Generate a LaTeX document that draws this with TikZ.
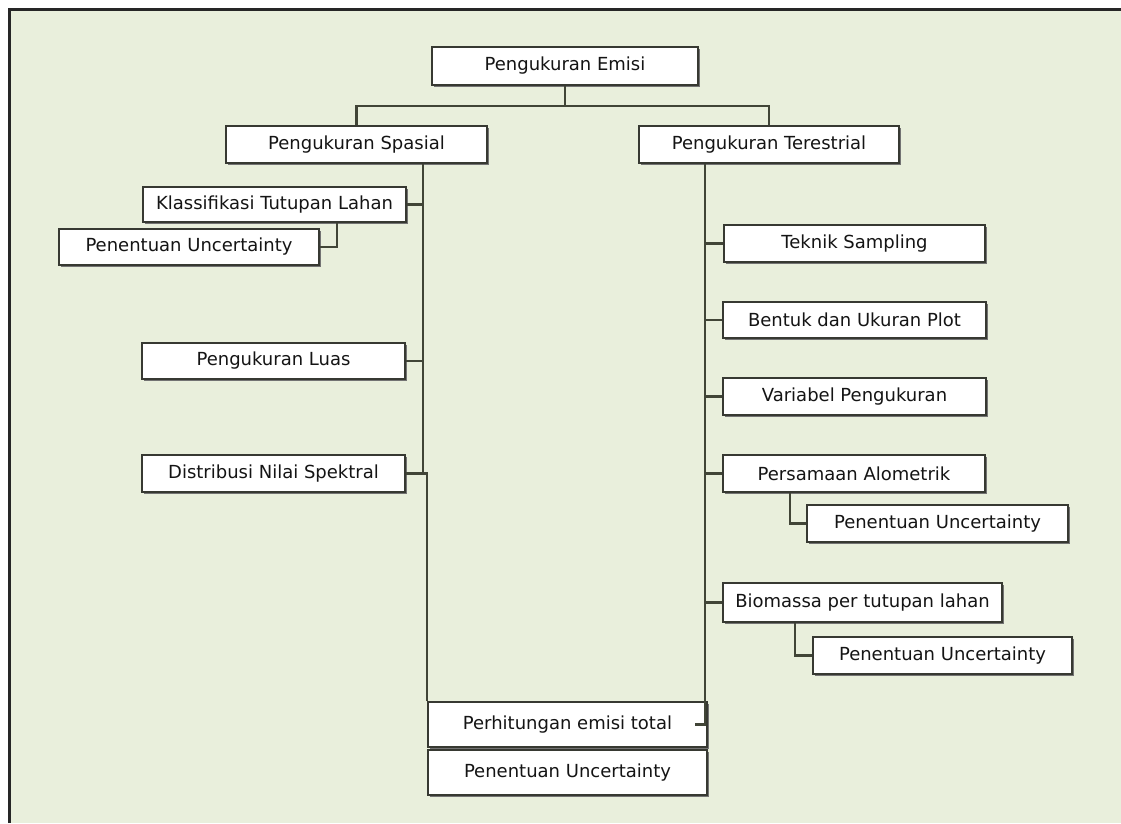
\documentclass[tikz,border=0pt]{standalone}
\usepackage{fontspec}
\setmainfont{DejaVu Sans}
\definecolor{bgc}{RGB}{233,239,220}
\definecolor{edgec}{RGB}{55,57,50}
\definecolor{linec}{RGB}{65,69,55}
\definecolor{txtc}{RGB}{20,20,20}
\tikzset{
  box/.style={rectangle, draw=edgec, line width=1.6pt, fill=white, inner sep=0pt,
    text=txtc, font=\fontsize{18}{21}\selectfont,
    preaction={fill=black!55, transform canvas={xshift=1.6pt,yshift=-1.6pt}}},
  conn/.style={draw=linec, line width=2.1pt}
}
\begin{document}
\begin{tikzpicture}[x=1pt,y=-1pt]
\useasboundingbox (0,0) rectangle (1121,823);
\fill[white] (0,0) rectangle (1121,823);
\fill[bgc] (9,9) rectangle (1121,823);
\draw[black!85, line width=2.6pt] (9.5,823) -- (9.5,9.5) -- (1121,9.5);

% helper coordinates for trunks
\coordinate (lx) at (423,0);
\coordinate (rx) at (705,0);

% nodes
\node[box, minimum width=266, minimum height=38] (emisi) at (565,66) {Pengukuran Emisi};
\node[box, minimum width=261, minimum height=37] (spasial) at (356.5,144.5) {Pengukuran Spasial};
\node[box, minimum width=260, minimum height=37] (terestrial) at (769,144.5) {Pengukuran Terestrial};

\node[box, minimum width=263, minimum height=35] (klas) at (274.5,204.5) {Klassifikasi Tutupan Lahan};
\node[box, minimum width=260, minimum height=36] (unc1) at (189,247) {Penentuan Uncertainty};
\node[box, minimum width=263, minimum height=36] (luas) at (273.5,361) {Pengukuran Luas};
\node[box, minimum width=263, minimum height=37] (distr) at (273.5,473.5) {Distribusi Nilai Spektral};

\node[box, minimum width=261, minimum height=37] (teknik) at (854.5,243.5) {Teknik Sampling};
\node[box, minimum width=263, minimum height=36] (bentuk) at (854.5,320) {Bentuk dan Ukuran Plot};
\node[box, minimum width=263, minimum height=37] (variabel) at (854.5,396.5) {Variabel Pengukuran};
\node[box, minimum width=262, minimum height=37] (persamaan) at (854,473.5) {Persamaan Alometrik};
\node[box, minimum width=261, minimum height=37] (unc2) at (937.5,523.5) {Penentuan Uncertainty};
\node[box, minimum width=279, minimum height=39] (biomassa) at (862.5,602.5) {Biomassa per tutupan lahan};
\node[box, minimum width=259, minimum height=37] (unc3) at (942.5,655.5) {Penentuan Uncertainty};

\node[box, minimum width=279, minimum height=45] (total) at (567.5,724.5) {Perhitungan emisi total};
\node[box, minimum width=279, minimum height=45] (unc4) at (567.5,772.5) {Penentuan Uncertainty};

% top connectors
\draw[conn] (emisi.south) -- ++(0,20) -| (spasial.north);
\draw[conn] (emisi.south) -- ++(0,20) -| (terestrial.north);

% left trunk
\draw[conn] (spasial.south -| lx) -- (distr.east -| lx);
\draw[conn] (klas.east) -- (klas.east -| lx);
\draw[conn] ([xshift=62.5pt]klas.south) |- (unc1.east);
\draw[conn] (luas.east) -- (luas.east -| lx);
\draw[conn] (distr.east) -| (total.north west);

% right trunk
\draw[conn] (terestrial.south -| rx) -- (rx |- total.east) -- ++(-10,0);
\draw[conn] (teknik.west) -- (teknik.west -| rx);
\draw[conn] (bentuk.west) -- (bentuk.west -| rx);
\draw[conn] (variabel.west) -- (variabel.west -| rx);
\draw[conn] (persamaan.west) -- (persamaan.west -| rx);
\draw[conn] ([xshift=-64pt]persamaan.south) |- (unc2.west);
\draw[conn] (biomassa.west) -- (biomassa.west -| rx);
\draw[conn] ([xshift=-67.5pt]biomassa.south) |- (unc3.west);
\end{tikzpicture}
\end{document}
